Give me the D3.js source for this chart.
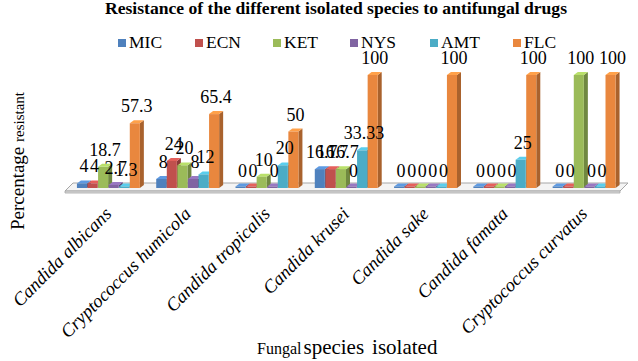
<!DOCTYPE html>
<html>
<head>
<meta charset="utf-8">
<script src="https://cdn.jsdelivr.net/npm/d3@7"></script>
<style>
  body { margin: 0; background: #fff; }
</style>
</head>
<body>
<div id="chart"></div>
<script>
const species = ["Candida albicans", "Cryptococcus humicola", "Candida tropicalis", "Candida krusei",
    "Candida sake", "Candida famata", "Cryptococcus curvatus"];
const drugs = ["MIC", "ECN", "KET", "NYS", "AMT", "FLC"];
const colors = ["#4f81bd", "#c0504d", "#9bbb59", "#8064a2", "#4bacc6", "#e9873e"];

const MIC = [4, 8, 0, 16.7, 0, 0, 0];
const ECN = [4, 24, 0, 16.7, 0, 0, 0];
const KET = [18.7, 20, 10, 16.7, 0, 0, 100];
const NYS = [2.7, 8, 0, 0, 0, 0, 0];
const AMT = [1.3, 12, 20, 33.33, 0, 25, 0];
const FLC = [57.3, 65.4, 50, 100, 100, 100, 100];
const seriesValues = [MIC, ECN, KET, NYS, AMT, FLC];
const labelText = [
    ["4", "8", "0", "16.7", "0", "0", "0"],
    ["4", "24", "0", "16.7", "0", "0", "0"],
    ["18.7", "20", "10", "16.7", "0", "0", "100"],
    ["2.7", "8", "0", "0", "0", "0", "0"],
    ["1.3", "12", "20", "33.33", "0", "25", "0"],
    ["57.3", "65.4", "50", "100", "100", "100", "100"]
];

const W = 638, H = 361;
const BASE = 188, DX = 4, DY = 3;
const FONT = "'Liberation Serif', 'Times New Roman', 'DejaVu Serif', serif";

const svg = d3.select("#chart").append("svg")
    .attr("width", W).attr("height", H)
    .attr("font-family", FONT);

const x0 = d3.scaleBand().domain(species).range([69, 624]).paddingInner(0.2).paddingOuter(0.1);
const x1 = d3.scaleBand().domain(drugs).range([0, x0.bandwidth()]);
const y = d3.scaleLinear().domain([0, 100]).range([BASE, 75]);

// title
svg.append("text")
    .attr("x", 105).attr("y", 14)
    .attr("textLength", 462).attr("lengthAdjust", "spacingAndGlyphs")
    .style("font-size", "16px").style("font-weight", "bold")
    .text("Resistance of the different isolated species to antifungal drugs");

// legend
const legendX = [118, 195, 273, 350, 430, 513];
const legend = svg.append("g").selectAll("g").data(drugs).join("g")
    .attr("transform", (d, i) => `translate(${legendX[i]},39)`);
legend.append("rect").attr("width", 8).attr("height", 8).attr("fill", (d, i) => colors[i]);
legend.append("text").attr("x", 11).attr("y", 8.5)
    .style("font-size", "17.5px").text(d => d);

// floor
const fx0 = 65, fx1 = 620, fy = 191, fd = 8;
svg.append("path")
    .attr("d", `M${fx0},${fy} L${fx1},${fy} L${fx1 + fd},${fy - fd} L${fx0 + fd},${fy - fd} Z`)
    .attr("fill", "#f4f4f4").attr("stroke", "#a6a6a6").attr("stroke-width", 1);
svg.append("path")
    .attr("d", `M${fx0},${fy} L${fx1},${fy} L${fx1},${fy + 2} L${fx0},${fy + 2} Z`)
    .attr("fill", "#d9d9d9").attr("stroke", "#a6a6a6").attr("stroke-width", 0.8);

// bars
const bars = [];
species.forEach((s, ci) => {
    drugs.forEach((d, si) => {
        bars.push({ s, d, si, v: seriesValues[si][ci], label: labelText[si][ci] });
    });
});

const bw = x1.bandwidth() - 0.5;
const groups = svg.append("g").selectAll("g").data(bars).join("g");

groups.each(function (b) {
    const g = d3.select(this);
    const xl = x0(b.s) + x1(b.d);
    const top = Math.min(y(b.v), BASE - 1.5);
    const c = d3.color(colors[b.si]);
    // side face
    g.append("path")
        .attr("d", `M${xl + bw},${top} L${xl + bw + DX},${top - DY} L${xl + bw + DX},${BASE - DY} L${xl + bw},${BASE} Z`)
        .attr("fill", c.darker(0.9));
    // top face
    g.append("path")
        .attr("d", `M${xl},${top} L${xl + DX},${top - DY} L${xl + bw + DX},${top - DY} L${xl + bw},${top} Z`)
        .attr("fill", c.brighter(0.5));
    // front face
    g.append("rect")
        .attr("x", xl).attr("y", top)
        .attr("width", bw).attr("height", BASE - top)
        .attr("fill", c);
});

// value labels
svg.append("g").selectAll("text").data(bars).join("text")
    .attr("x", b => x0(b.s) + x1(b.d) + bw / 2 + 2)
    .attr("y", b => y(b.v) - 11)
    .attr("text-anchor", "middle")
    .style("font-size", "18px")
    .text(b => b.label);

// category labels
svg.append("g").selectAll("text").data(species).join("text")
    .attr("transform", d => `translate(${x0(d) + x0.bandwidth() / 2 + 4},${215}) rotate(-45)`)
    .attr("text-anchor", "end")
    .style("font-size", "18.5px").style("font-style", "italic")
    .text(d => d);

// axis titles
const yTitle = svg.append("text")
    .attr("transform", "translate(24,161) rotate(-90)")
    .attr("text-anchor", "middle");
yTitle.append("tspan").style("font-size", "19px").text("Percentage ");
yTitle.append("tspan").style("font-size", "15px").text("resistant");

const xTitle = svg.append("text")
    .attr("x", 257).attr("y", 354);
xTitle.append("tspan").style("font-size", "16px").text("Fungal");
xTitle.append("tspan").attr("dx", 2).style("font-size", "21px").text("species");
xTitle.append("tspan").attr("dx", 8).style("font-size", "21px").text("isolated");
</script>
</body>
</html>
